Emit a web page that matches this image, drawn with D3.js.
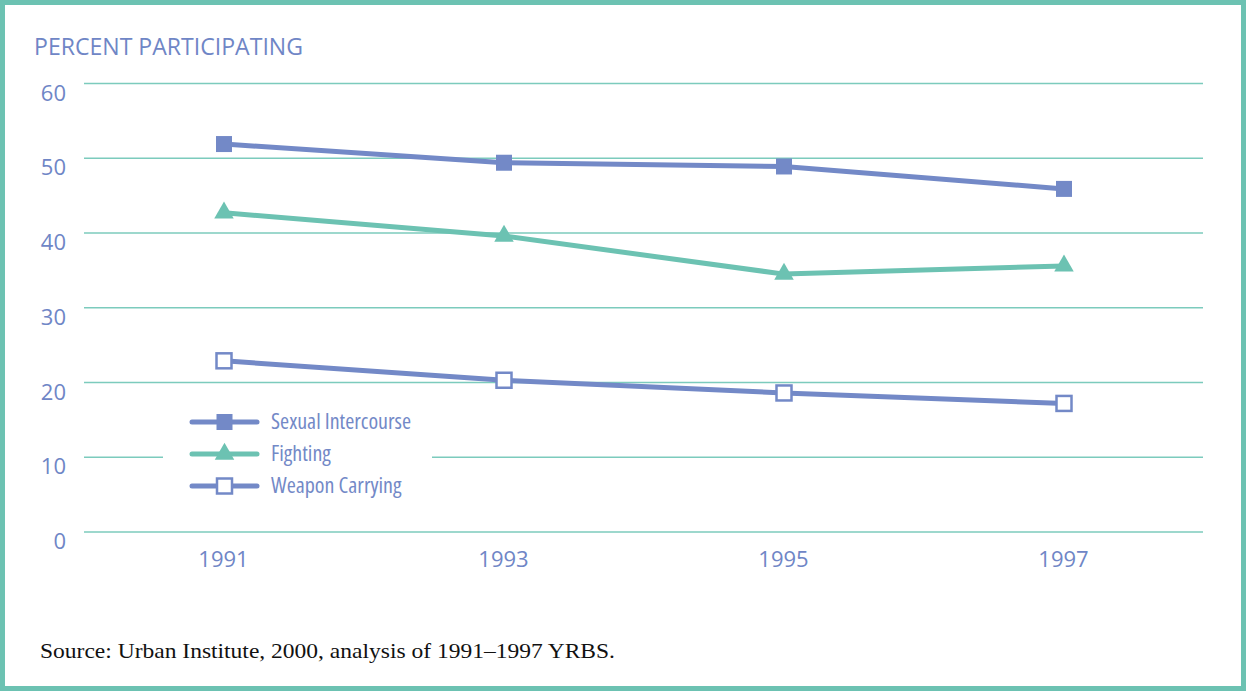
<!DOCTYPE html>
<html><head><meta charset="utf-8">
<script src="https://cdn.jsdelivr.net/npm/d3@7"></script>
<style>
html,body{margin:0;padding:0;background:#fff;}
svg{display:block;}
</style></head>
<body>
<svg id="chart" width="1246" height="691"></svg>
<script>
// ---- data ----
const years = [1991, 1993, 1995, 1997];
const sexualIntercourse = [51.9, 49.4, 48.9, 45.9];
const fighting = [42.7, 39.6, 34.5, 35.6];
const weaponCarrying = [22.9, 20.3, 18.6, 17.2];
const yTicks = [0, 10, 20, 30, 40, 50, 60];
const seriesNames = ["Sexual Intercourse", "Fighting", "Weapon Carrying"];
const titleText = "PERCENT PARTICIPATING";
const sourceText = "Source: Urban Institute, 2000, analysis of 1991\u20131997 YRBS.";

const BLUE = "#7389c7", TEAL = "#6cc2b2", GRID = "#7ccbbd", LABEL = "#6f86c6";
const svg = d3.select("#chart");
const W = 1246, H = 691;

// border
svg.append("rect").attr("x", 2.5).attr("y", 2.5).attr("width", W - 5).attr("height", H - 5)
  .attr("fill", "#fff").attr("stroke", TEAL).attr("stroke-width", 5);

const x = d3.scaleLinear().domain([1991, 1997]).range([224, 1064]);
const y = d3.scaleLinear().domain([0, 60]).range([532, 83.5]);

// gridlines
const gx0 = 84, gx1 = 1203;
svg.append("g").selectAll("line").data(yTicks).join("line")
  .attr("x1", gx0).attr("x2", gx1)
  .attr("y1", d => y(d)).attr("y2", d => y(d))
  .attr("stroke", GRID).attr("stroke-width", 1.5);

// y labels
const yAxis = d3.axisLeft(y).tickValues(yTicks).tickSize(0).tickPadding(0);
const yg = svg.append("g").attr("transform", "translate(66,0)").call(yAxis);
yg.select(".domain").remove();
yg.selectAll("text").attr("font-family", "'Open Sans', Lato, sans-serif").attr("font-size", 22)
  .attr("fill", LABEL).attr("dy", "0.75em").attr("y", 0);

// x labels
const xAxis = d3.axisBottom(x).tickValues(years).tickFormat(d3.format("d")).tickSize(0).tickPadding(0);
const xg = svg.append("g").attr("transform", "translate(0,550)").call(xAxis);
xg.select(".domain").remove();
xg.selectAll("text").attr("font-family", "'Open Sans', Lato, sans-serif").attr("font-size", 22)
  .attr("fill", LABEL).attr("dy", "0.75em").attr("x", -1);

// title
svg.append("text").attr("x", 34).attr("y", 55).text(titleText)
  .attr("font-family", "'Open Sans', Lato, sans-serif").attr("font-size", 23)
  .attr("fill", LABEL).attr("textLength", 269).attr("lengthAdjust", "spacingAndGlyphs");

// source
svg.append("text").attr("x", 40).attr("y", 658).text(sourceText)
  .attr("font-family", "'Liberation Serif', 'DejaVu Serif', serif").attr("font-size", 21.5)
  .attr("fill", "#111").attr("textLength", 575).attr("lengthAdjust", "spacingAndGlyphs");

// legend background (breaks gridline)
svg.append("rect").attr("x", 163).attr("y", 405).attr("width", 269).attr("height", 95).attr("fill", "#fff");

const line = d3.line().x((d, i) => x(years[i])).y(d => y(d));
const series = [
  {name: seriesNames[0], vals: sexualIntercourse, color: BLUE, marker: "square"},
  {name: seriesNames[1], vals: fighting, color: TEAL, marker: "triangle"},
  {name: seriesNames[2], vals: weaponCarrying, color: BLUE, marker: "open"}
];

function drawMarker(g, type, color, cx, cy) {
  if (type === "square") {
    g.append("rect").attr("x", cx - 8).attr("y", cy - 8).attr("width", 16).attr("height", 16).attr("fill", color);
  } else if (type === "triangle") {
    const tri = d3.symbol().type(d3.symbolTriangle).size(165);
    g.append("path").attr("d", tri()).attr("transform", `translate(${cx},${cy})`).attr("fill", color);
  } else {
    g.append("rect").attr("x", cx - 7.5).attr("y", cy - 7.5).attr("width", 15).attr("height", 15)
      .attr("fill", "#fff").attr("stroke", color).attr("stroke-width", 2.5);
  }
}

series.forEach(s => {
  svg.append("path").attr("d", line(s.vals)).attr("fill", "none")
    .attr("stroke", s.color).attr("stroke-width", 5);
  const g = svg.append("g");
  s.vals.forEach((v, i) => drawMarker(g, s.marker, s.color, x(years[i]), y(v)));
});

// legend
const legY = [422, 454, 486];
series.forEach((s, i) => {
  const g = svg.append("g");
  g.append("line").attr("x1", 192).attr("x2", 257).attr("y1", legY[i]).attr("y2", legY[i])
    .attr("stroke", s.color).attr("stroke-width", 5).attr("stroke-linecap", "round");
  drawMarker(g, s.marker, s.color, 224.5, legY[i]);
  g.append("text").attr("x", 271).attr("y", legY[i] + 7).text(s.name)
    .attr("font-family", "'Liberation Sans Narrow', 'Open Sans', sans-serif")
    .attr("font-stretch", "condensed").attr("font-size", 22).attr("fill", BLUE);
});
</script>
</body></html>
